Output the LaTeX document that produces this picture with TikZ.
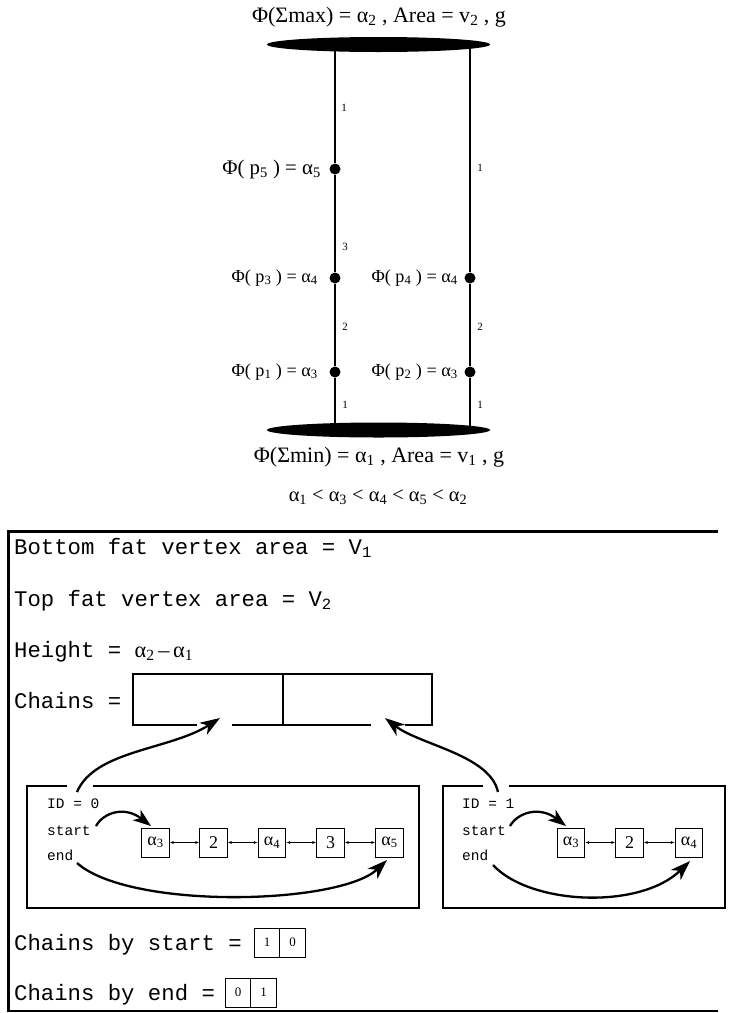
\documentclass[tikz,border=0pt]{standalone}
\usepackage{fontspec}
\setmainfont{Liberation Serif}
\setmonofont{Liberation Mono}
\usetikzlibrary{arrows.meta,shapes.geometric}
\begin{document}
\begin{tikzpicture}[x=1pt,y=-1pt,
  fatv/.style={ellipse, fill=black, minimum width=223pt, minimum height=15pt, inner sep=0pt},
  dotv/.style={circle, fill=black, minimum size=11pt, inner sep=0pt},
  edge/.style={line width=1.3pt},
  elab/.style={font=\fontsize{11}{12}\selectfont, inner sep=0pt},
  plab/.style={font=\fontsize{18.2}{21}\selectfont, inner sep=0pt, anchor=east},
  biglab/.style={font=\fontsize{22}{26}\selectfont, inner sep=0pt},
  mono/.style={font=\fontsize{22.3}{26}\selectfont\ttfamily, inner sep=0pt, anchor=base west},
  smono/.style={font=\fontsize{14.5}{17}\selectfont\ttfamily, inner sep=0pt, anchor=base west},
  cbox/.style={draw, line width=1.2pt, minimum height=51pt, inner sep=0pt},
  idbox/.style={draw, line width=1.1pt, minimum height=122pt, inner sep=0pt},
  lnode/.style={draw, line width=0.9pt, minimum width=27.5pt, minimum height=29pt, inner sep=0pt, font=\fontsize{18}{20}\selectfont},
  link/.style={line width=0.7pt, {Latex[length=4pt,width=3pt]}-{Latex[length=4pt,width=3pt]}},
  ptr/.style={line width=2.3pt, -{Stealth[length=20pt,width=14pt,inset=6pt]}},
  sptr/.style={line width=2.3pt, -{Stealth[length=18pt,width=13pt,inset=5pt]}},
  sbox/.style={draw, line width=0.9pt, minimum width=25.5pt, minimum height=29pt, inner sep=0pt, font=\fontsize{13}{14}\selectfont},
]
\useasboundingbox (0,0) rectangle (730,1013);

% ---------- upper graph ----------
\node[dotv] (p5) at (335,169) {};
\node[dotv] (p3) at (335,278) {};
\node[dotv] (p1) at (335,372) {};
\node[dotv] (p4) at (470,278) {};
\node[dotv] (p2) at (470,372) {};
\coordinate (tl) at (335,44.5);
\coordinate (tr) at (470,44.5);
\coordinate (bl) at (335,430);
\coordinate (br) at (470,430);
\draw[edge] (tl) -- (p5) -- (p3) -- (p1) -- (bl);
\draw[edge] (tr) -- (p4) -- (p2) -- (br);
\node[fatv] (top) at (378.5,44.5) {};
\node[fatv] (bot) at (378.5,430) {};

\node[elab] (e1) at (344,108) {1};
\node[elab] (e2) at (345,247) {3};
\node[elab] (e3) at (345,327) {2};
\node[elab] (e4) at (345,405) {1};
\node[elab] (e5) at (480,168) {1};
\node[elab] (e6) at (480,327) {2};
\node[elab] (e7) at (480,405) {1};

\node[plab,font=\fontsize{20.8}{24}\selectfont] (lp5) at (321,169) {Φ( p\textsubscript{5} ) = α\textsubscript{5}};
\node[plab] (lp3) at (318,278) {Φ( p\textsubscript{3} ) = α\textsubscript{4}};
\node[plab] (lp1) at (318,372) {Φ( p\textsubscript{1} ) = α\textsubscript{3}};
\node[plab] (lp4) at (458,278) {Φ( p\textsubscript{4} ) = α\textsubscript{4}};
\node[plab] (lp2) at (458,372) {Φ( p\textsubscript{2} ) = α\textsubscript{3}};

\node[biglab] (toplab) at (379,17) {Φ(Σmax) = α\textsubscript{2} , Area = v\textsubscript{2} , g};
\node[biglab] (botlab) at (379,457) {Φ(Σmin) = α\textsubscript{1} , Area = v\textsubscript{1} , g};
\node[biglab,font=\fontsize{20.4}{24}\selectfont] (ineq) at (378,497) {α\textsubscript{1} < α\textsubscript{3} < α\textsubscript{4} < α\textsubscript{5} < α\textsubscript{2}};

% ---------- lower record ----------
\draw[line width=2.6pt, line cap=butt] (718,531.5) -- (8.5,531.5) -- (8.5,1011) -- (718,1011);

\node[mono] (bv) at (14,554) {Bottom fat vertex area = V\textsubscript{1}};
\node[mono] (tv) at (14,606) {Top fat vertex area = V\textsubscript{2}};
\node[mono] (hv) at (14,657) {Height = {\rmfamily α\textsubscript{2}\,–\,α\textsubscript{1}}};
\node[mono] (cv) at (14,708) {Chains =};

\node[cbox, minimum width=150pt] (chL) at (208,699.5) {};
\node[cbox, minimum width=149pt] (chR) at (357.5,699.5) {};
\draw[white, line width=3pt] (197,725) -- (232,725);
\draw[white, line width=3pt] (371,725) -- (405,725);

\node[idbox, minimum width=392pt] (box0) at (223,847) {};
\node[idbox, minimum width=282pt] (box1) at (584,847) {};
\draw[white, line width=3pt] (67,786) -- (93,786);
\draw[white, line width=3pt] (483,786) -- (509,786);

\node[smono] (id0) at (47,808) {ID = 0};
\node[smono] (st0) at (47,835) {start};
\node[smono] (en0) at (47,860) {end};
\node[smono] (id1) at (462,808) {ID = 1};
\node[smono] (st1) at (462,835) {start};
\node[smono] (en1) at (462,860) {end};

\node[lnode] (c01) at (155.5,842.5) {α\textsubscript{3}};
\node[lnode] (c02) at (213.5,842.5) {2};
\node[lnode] (c03) at (272,842.5) {α\textsubscript{4}};
\node[lnode] (c04) at (330.5,842.5) {3};
\node[lnode] (c05) at (389.5,842.5) {α\textsubscript{5}};
\node[lnode] (c11) at (571,842.5) {α\textsubscript{3}};
\node[lnode] (c12) at (629.5,842.5) {2};
\node[lnode] (c13) at (689,842.5) {α\textsubscript{4}};

\draw[link] (c01) -- (c02);
\draw[link] (c02) -- (c03);
\draw[link] (c03) -- (c04);
\draw[link] (c04) -- (c05);
\draw[link] (c11) -- (c12);
\draw[link] (c12) -- (c13);

\coordinate (s0) at (77,792);
\coordinate (t0) at (220,718);
\coordinate (s1) at (498,792);
\coordinate (t1) at (385,718);
\draw[ptr] (s0) .. controls (95,750) and (170,750) .. (t0);
\draw[ptr] (s1) .. controls (490,755) and (420,745) .. (t1);

\coordinate (ss0) at (96,826);
\coordinate (ts0) at (151,826);
\coordinate (ss1) at (510,826);
\coordinate (ts1) at (566,826);
\draw[sptr] (ss0) .. controls (104,812) and (125,806) .. (ts0);
\draw[sptr] (ss1) .. controls (518,812) and (540,806) .. (ts1);

\coordinate (se0) at (77,863);
\coordinate (te0) at (387,860);
\coordinate (se1) at (493,865);
\coordinate (te1) at (690,861);
\draw[ptr] (se0) .. controls (130,910) and (340,905) .. (te0);
\draw[ptr] (se1) .. controls (530,905) and (640,910) .. (te1);

\node[mono] (cs) at (14,950) {Chains by start =};
\node[sbox] (sb0) at (267,942.5) {1};
\node[sbox] (sb1) at (292.5,942.5) {0};
\node[mono] (ce) at (14,1000) {Chains by end =};
\node[sbox] (eb0) at (238,992.5) {0};
\node[sbox] (eb1) at (263.5,992.5) {1};
\end{tikzpicture}
\end{document}
